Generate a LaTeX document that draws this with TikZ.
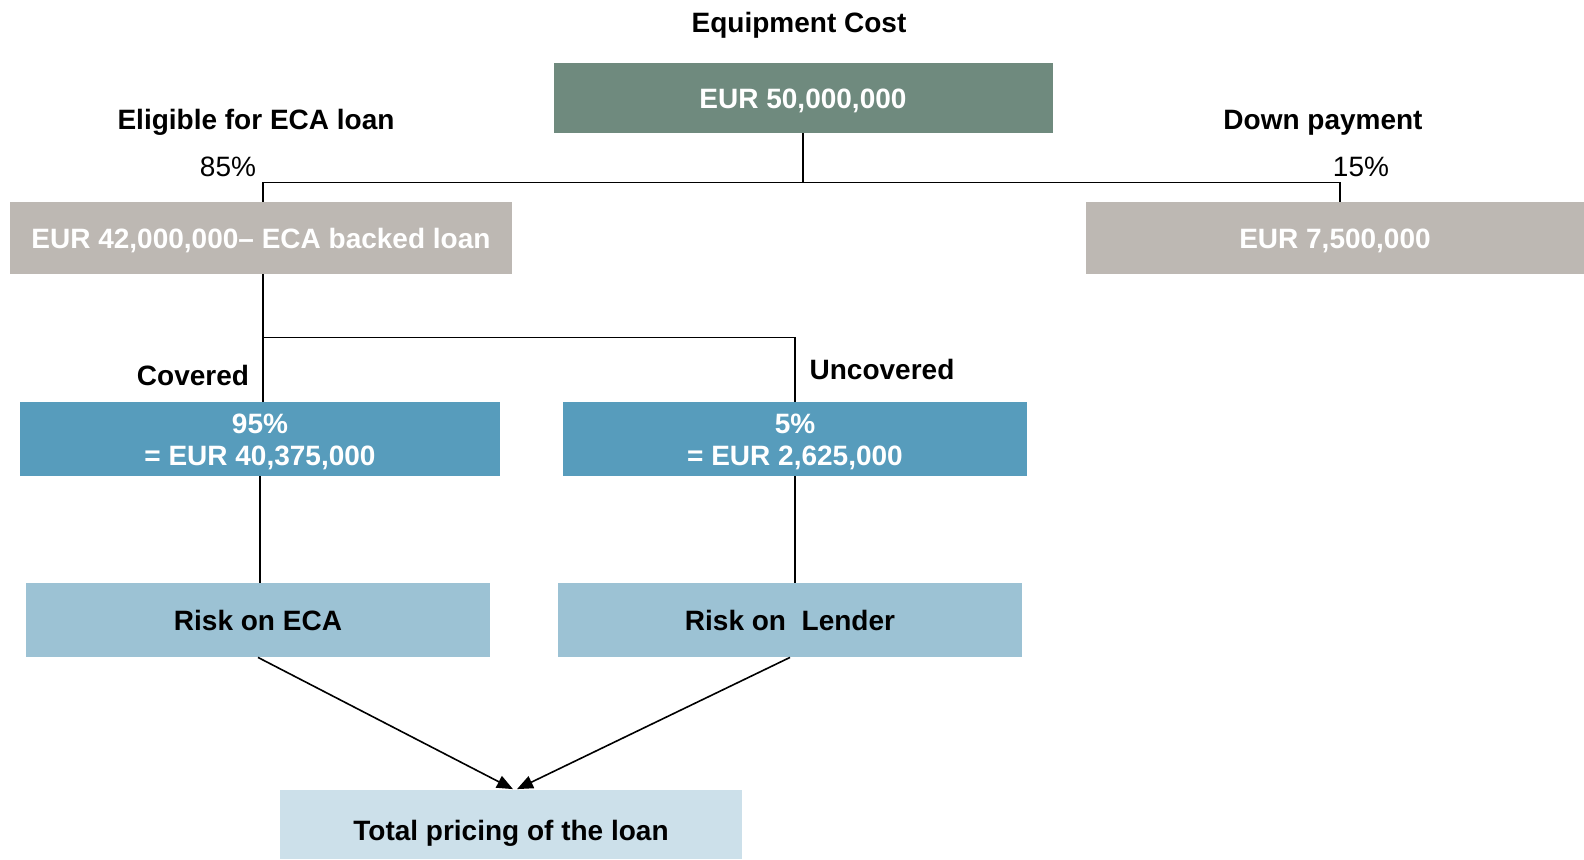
\documentclass[tikz,border=0pt]{standalone}
\usepackage{fontspec}
\setmainfont{Liberation Sans}
\usetikzlibrary{positioning,arrows.meta}
\definecolor{costgreen}{HTML}{6F8A7E}
\definecolor{splitgray}{HTML}{BDB8B3}
\definecolor{coverblue}{HTML}{579CBC}
\definecolor{riskblue}{HTML}{9CC2D4}
\definecolor{totalblue}{HTML}{CCE0EA}
\tikzset{
>={Triangle[length=8pt,width=6.5pt]},
  line/.style={draw, line width=0.8pt},
  block/.style={
    rectangle,
    inner sep=0pt,
    align=center,
    text height=10pt,
    text depth=0pt,
    font=\fontsize{14}{16}\selectfont\bfseries},
  costbox/.style={block, fill=costgreen, text=white,
    minimum width=249.5pt, minimum height=35pt},
  splitbox/.style={block, fill=splitgray, text=white,
    minimum height=36pt},
  coverbox/.style={block, fill=coverblue, text=white,
    text height=26pt,
    minimum height=37pt},
  riskbox/.style={block, fill=riskblue, text=black,
    minimum width=232pt, minimum height=37pt},
  totalbox/.style={block, fill=totalblue, text=black,
    text height=16pt,
    minimum width=231pt, minimum height=34.5pt},
  heading/.style={inner sep=0pt, text height=10pt, text depth=0pt,
    font=\fontsize{14}{16}\selectfont\bfseries},
  share/.style={inner sep=0pt, text height=10pt, text depth=0pt,
    font=\fontsize{14}{16}\selectfont},
}
\begin{document}
\begin{tikzpicture}[x=0.5pt, y=-0.5pt]
  \useasboundingbox (0,0) rectangle (1584,859);
  % boxes
  \node[costbox] (cost) at (803,98) {EUR 50,000,000};
  \node[splitbox, minimum width=251pt] (loan) at (261,238) {EUR 42,000,000-- ECA backed loan};
  \node[splitbox, minimum width=249pt] (down) at (1335,238) {EUR 7,500,000};
  \node[coverbox, minimum width=240pt] (covered) at (260,439) {95\%\\= EUR 40,375,000};
  \node[coverbox, minimum width=232pt] (uncovered) at (795,439) {5\%\\= EUR 2,625,000};
  \node[riskbox] (riskeca) at (258,620) {Risk on ECA};
  \node[riskbox] (risklender) at (790,620) {Risk on~ Lender};
  \node[totalbox] (total) at (511,824) {Total pricing of the loan};
  % labels
  \node[heading] (costlabel) at (799,22) {Equipment Cost};
  \node[heading] (eligible) at (256,119) {Eligible for ECA loan};
  \node[heading] (downlabel) at (1323,119) {Down payment};
  \node[share] (p85) at (228,166) {85\%};
  \node[share] (p15) at (1361,166) {15\%};
  \node[heading] (coveredlabel) at (193,375) {Covered};
  \node[heading] (uncoveredlabel) at (882,369) {Uncovered};
  % connectors
  \draw[line] (cost.south) -- ++(0,49) coordinate (bus1);
  \draw[line] ([xshift=1pt]loan.north) |- (bus1) -| ([xshift=2.5pt]down.north);
  \draw[line] ([xshift=1pt]loan.south) -- ([xshift=1pt]loan.south |- covered.north);
  \path ([xshift=1pt]loan.south) ++(0,63) coordinate (bus2);
  \draw[line] (bus2) -| (uncovered.north);
  \draw[line] (covered.south) -- (covered.south |- riskeca.north);
  \draw[line] (uncovered.south) -- (uncovered.south |- risklender.north);
  \draw[line, ->] (riskeca.south) -- ([xshift=1pt]total.north);
  \draw[line, ->] (risklender.south) -- ([xshift=3pt]total.north);
\end{tikzpicture}
\end{document}
